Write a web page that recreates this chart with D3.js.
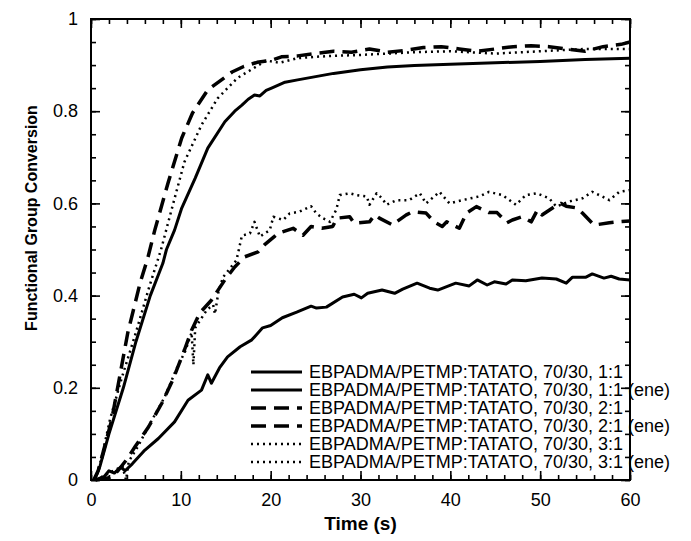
<!DOCTYPE html>
<html lang="en">
<head>
    <meta charset="UTF-8">
    <title>Functional group conversion</title>
    <style>
        body{ margin:0; background:white; }
        svg{ display:block; }
        text{ font-family: "Liberation Sans", Arial, sans-serif; fill:black; }
    </style>
</head>
<body>
    <script src="https://cdn.jsdelivr.net/npm/d3@7"></script>
    <script>
        // ticks
        const xTicks = [0, 10, 20, 30, 40, 50, 60];
        const yTicks = [0, 0.2, 0.4, 0.6, 0.8, 1];

        const seriesNames = [
            "EBPADMA/PETMP:TATATO, 70/30, 1:1",
            "EBPADMA/PETMP:TATATO, 70/30, 1:1 (ene)",
            "EBPADMA/PETMP:TATATO, 70/30, 2:1",
            "EBPADMA/PETMP:TATATO, 70/30, 2:1 (ene)",
            "EBPADMA/PETMP:TATATO, 70/30, 3:1",
            "EBPADMA/PETMP:TATATO, 70/30, 3:1 (ene)"
        ];

        // [time (s), conversion]
        const conv11 = [[0.4,0],[1,0.03],[2,0.1],[3.6,0.2],[5,0.3],[6.6,0.4],[8,0.47],[8.4,0.5],[9.3,0.542],[10.1,0.59],[11.6,0.655],
            [13,0.72],[14.9,0.777],[16,0.8],[16.8,0.813],[17.5,0.826],[18.2,0.835],[18.8,0.833],[19.5,0.845],[20.1,0.85],[21.6,0.863],
            [23,0.868],[25,0.875],[27,0.882],[30,0.89],[33,0.896],[36,0.899],[40,0.902],[45,0.905],[50,0.908],[55,0.912],[60,0.915]];

        const conv11ene = [[0.5,0],[1.5,0.008],[2,0.02],[2.6,0.015],[3.3,0.028],[3.8,0.02],[4.6,0.035],[6,0.065],[7.5,0.09],[9.3,0.126],
            [10.8,0.173],[12.3,0.195],[13,0.228],[13.4,0.21],[14.3,0.243],[15.2,0.267],[16.6,0.289],[17.9,0.304],[19.1,0.33],[20,0.335],
            [21.3,0.352],[22.9,0.364],[24.5,0.377],[25.1,0.373],[26.2,0.375],[28,0.397],[29.3,0.403],[30.1,0.395],[30.8,0.405],[32.4,0.412],
            [33.8,0.405],[34.7,0.414],[36.3,0.427],[37.7,0.416],[38.6,0.412],[40.6,0.427],[42.1,0.421],[43,0.434],[44.1,0.423],[44.9,0.43],
            [46.2,0.425],[46.9,0.434],[48.4,0.432],[50.2,0.438],[51.8,0.436],[52.9,0.427],[53.6,0.44],[55.1,0.44],[55.8,0.447],[57.1,0.438],
            [57.9,0.442],[58.8,0.436],[60,0.434]];

        const conv21 = [[0.3,0],[0.8,0.02],[2.3,0.13],[4.1,0.32],[5.5,0.43],[6.3,0.48],[7.1,0.542],[8.6,0.646],[10.1,0.742],[11.3,0.796],
            [13,0.846],[15.7,0.885],[17,0.897],[18.5,0.906],[20,0.91],[21.2,0.918],[23,0.92],[25,0.925],[27,0.93],[29,0.928],[31,0.935],
            [33,0.928],[35,0.932],[37,0.938],[39,0.94],[41,0.935],[43,0.93],[45,0.935],[47,0.94],[49,0.942],[51,0.94],[53,0.935],[55,0.93],
            [57,0.94],[59,0.945],[60,0.95]];

        const conv21ene = [[0.5,0],[2,0.005],[3,0.02],[4,0.045],[4.9,0.072],[6.4,0.115],[7.9,0.167],[9.1,0.217],[10.4,0.282],[11.2,0.325],
            [12.1,0.362],[13.4,0.39],[14.9,0.434],[16,0.462],[17.1,0.484],[18.6,0.495],[19.3,0.51],[20.4,0.528],[20.8,0.535],[22.5,0.546],
            [23.6,0.531],[24.5,0.55],[25.7,0.546],[26.9,0.55],[27.4,0.568],[28.8,0.571],[29.3,0.557],[31,0.56],[31.6,0.575],[32.1,0.568],
            [33.6,0.553],[34,0.56],[35.1,0.575],[35.8,0.582],[37.3,0.579],[38.2,0.56],[39.1,0.55],[39.6,0.56],[41,0.546],[41.8,0.579],
            [42.9,0.593],[44.3,0.58],[45.2,0.58],[46.3,0.558],[46.9,0.564],[48,0.571],[49,0.56],[49.7,0.586],[50.2,0.575],[51.6,0.593],
            [52.3,0.6],[52.9,0.594],[54.1,0.59],[54.7,0.579],[56,0.553],[57.7,0.558],[58.6,0.56],[60,0.562]];

        const conv31 = [[0.5,0],[1.2,0.05],[2.1,0.13],[3.4,0.22],[5,0.32],[6.5,0.42],[7.8,0.5],[9.1,0.596],[10.4,0.69],[12.3,0.77],
            [14.1,0.828],[16.3,0.872],[18.5,0.898],[19.5,0.91],[21,0.905],[23,0.915],[25,0.918],[27,0.92],[30,0.922],[33,0.925],
            [36,0.928],[40,0.93],[45,0.925],[50,0.93],[55,0.935],[60,0.935]];

        const conv31ene = [[0.5,0],[1.5,0.01],[2.5,0.02],[3.5,0.03],[3.9,0],[4.2,0.04],[5.2,0.072],[6.5,0.12],[8.2,0.18],[9.5,0.24],
            [10.5,0.28],[11.2,0.32],[11.4,0.25],[11.6,0.33],[12.9,0.369],[13.6,0.38],[13.8,0.36],[14.2,0.41],[14.7,0.44],[16.2,0.477],
            [16.8,0.53],[17.7,0.535],[18.2,0.56],[18.8,0.528],[19.9,0.542],[20.3,0.571],[21.4,0.564],[22.1,0.578],[23.2,0.582],[24.5,0.594],
            [25.1,0.578],[25.8,0.568],[26.6,0.56],[27.3,0.586],[27.7,0.618],[28.8,0.622],[29.6,0.618],[30.7,0.615],[31,0.597],[31.8,0.622],
            [32.4,0.611],[32.9,0.597],[34,0.607],[35.4,0.607],[36.6,0.622],[37.3,0.6],[38.8,0.625],[39.9,0.6],[41.3,0.607],[43.2,0.615],
            [44.3,0.625],[45.8,0.618],[47.3,0.597],[48.4,0.618],[49.6,0.622],[51,0.611],[51.8,0.593],[53.2,0.604],[54.7,0.611],[55.8,0.625],
            [56.9,0.615],[57.7,0.607],[58.8,0.625],[60,0.629]];

        const allSeries = [conv11, conv11ene, conv21, conv21ene, conv31, conv31ene];

        // style par serie : trait plein, tirets, pointilles
        function styleOf(i){
            if(i < 2){ return {dash:null, w:3} }
            else if(i < 4){ return {dash:"15,8", w:3.5} }
            else { return {dash:"2,4", w:2.5} }
        }

        const W = 691, H = 541;
        const svg = d3.select('body').append('svg')
            .attr('width', W)
            .attr('height', H);

        const x = d3.scaleLinear().domain([0, 60]).range([91, 630]);
        const y = d3.scaleLinear().domain([0, 1]).range([480, 19]);

        const line = d3.line()
            .x(d => x(d[0]))
            .y(d => y(d[1]));

        // courbes
        svg.append('g').selectAll('path')
            .data(allSeries)
            .enter()
            .append('path')
                .attr('d', line)
                .attr('fill', 'none')
                .attr('stroke', 'black')
                .attr('stroke-width', (d,i) => styleOf(i).w)
                .attr('stroke-dasharray', (d,i) => styleOf(i).dash)
                .attr('stroke-linejoin', 'round');

        // legende
        const leg = svg.append('g');
        const legRow = d3.scaleLinear().domain([0, 1]).range([372, 390]);
        seriesNames.forEach((name, i) => {
            const st = styleOf(i);
            leg.append('line')
                .attr('x1', 251).attr('x2', 302)
                .attr('y1', legRow(i)).attr('y2', legRow(i))
                .attr('stroke', 'black')
                .attr('stroke-width', st.w)
                .attr('stroke-dasharray', st.dash);
            leg.append('text')
                .attr('x', 309)
                .attr('y', legRow(i))
                .attr('dy', '0.36em')
                .style('font-size', '18px')
                .text(name);
        });

        // axes : graduations vers l'interieur sur les 4 cotes
        function tickStyle(g){
            g.select('.domain').remove();
            g.selectAll('line').attr('stroke', 'black').attr('stroke-width', 1.6);
            g.selectAll('text').style('font-size', '18px').attr('font-family', null);
        }
        const minorX = d3.range(0, 61, 2);
        const minorY = d3.range(0, 21).map(d => d * 0.05);

        svg.append('g').attr('transform', 'translate(0,480)')
            .call(d3.axisBottom(x).tickValues(minorX).tickSize(-5).tickFormat('')).call(tickStyle);
        svg.append('g').attr('transform', 'translate(0,480)')
            .call(d3.axisBottom(x).tickValues(xTicks).tickSize(-9).tickPadding(13).tickFormat(d => d)).call(tickStyle);
        svg.append('g').attr('transform', 'translate(0,19)')
            .call(d3.axisTop(x).tickValues(minorX).tickSize(-5).tickFormat('')).call(tickStyle);
        svg.append('g').attr('transform', 'translate(0,19)')
            .call(d3.axisTop(x).tickValues(xTicks).tickSize(-9).tickFormat('')).call(tickStyle);

        svg.append('g').attr('transform', 'translate(91,0)')
            .call(d3.axisLeft(y).tickValues(minorY).tickSize(-5).tickFormat('')).call(tickStyle);
        svg.append('g').attr('transform', 'translate(91,0)')
            .call(d3.axisLeft(y).tickValues(yTicks).tickSize(-9).tickPadding(13).tickFormat(d => d)).call(tickStyle);
        svg.append('g').attr('transform', 'translate(630,0)')
            .call(d3.axisRight(y).tickValues(minorY).tickSize(-5).tickFormat('')).call(tickStyle);
        svg.append('g').attr('transform', 'translate(630,0)')
            .call(d3.axisRight(y).tickValues(yTicks).tickSize(-9).tickFormat('')).call(tickStyle);

        // cadre
        svg.append('rect')
            .attr('x', x(0)).attr('y', y(1))
            .attr('width', x(60) - x(0))
            .attr('height', y(0) - y(1))
            .attr('fill', 'none')
            .attr('stroke', 'black')
            .attr('stroke-width', 2);

        // titres des axes
        svg.append('text')
            .attr('x', (x(0) + x(60)) / 2)
            .attr('y', 530)
            .attr('text-anchor', 'middle')
            .style('font-size', '19px')
            .style('font-weight', 'bold')
            .text('Time (s)');

        svg.append('text')
            .attr('transform', 'translate(37,218) rotate(-90)')
            .attr('text-anchor', 'middle')
            .style('font-size', '16px')
            .style('font-weight', 'bold')
            .text('Functional Group Conversion');
    </script>
</body>
</html>
